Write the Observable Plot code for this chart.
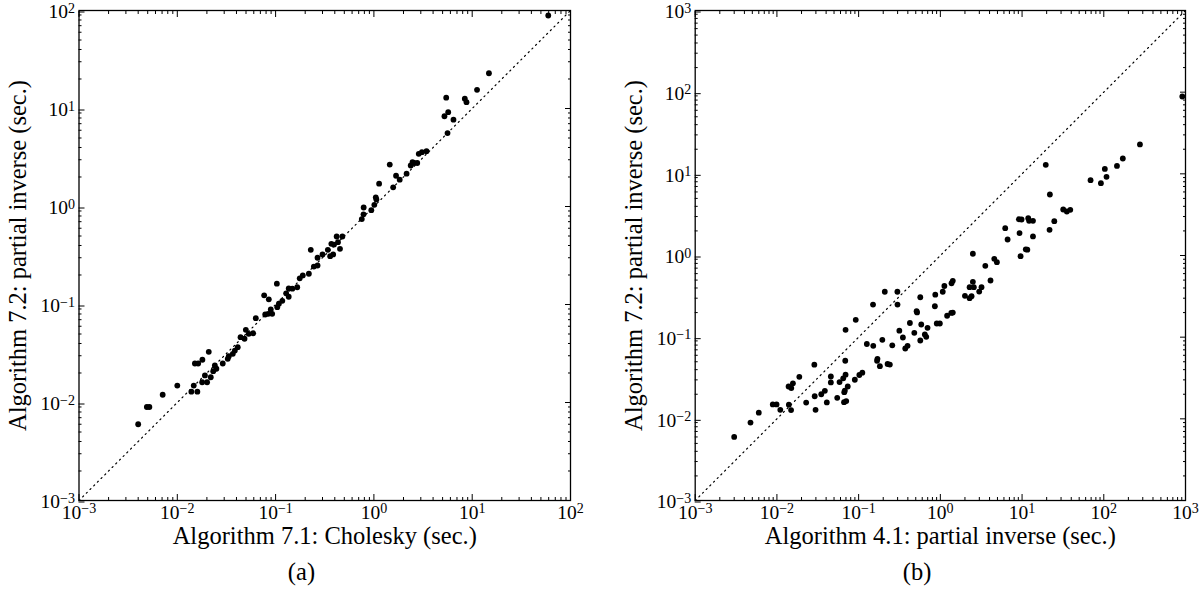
<!DOCTYPE html>
<html><head><meta charset="utf-8">
<script src="https://cdn.jsdelivr.net/npm/d3@7"></script>
<script src="https://cdn.jsdelivr.net/npm/@observablehq/plot@0.6"></script>
<style>
html,body{margin:0;padding:0;background:#fff;}
#wrap{position:relative;width:1204px;height:590px;overflow:hidden;background:#fff;}
#wrap svg{position:absolute;top:0;}
</style></head><body><div id="wrap"></div>
<script>
// ---- Panel (a): Algorithm 7.1 Cholesky (x) vs Algorithm 7.2 partial inverse (y), seconds
const choleskyTime = [0.0040,0.0049,0.0052,0.0071,0.0100,0.0139,0.0160,0.0147,0.0151,0.0163,0.0180,0.0209,0.0179,0.0201,0.0191,0.0219,0.0232,0.0250,0.0241,0.0290,0.0326,0.0334,0.0367,0.0385,0.0412,0.0440,0.0483,0.0498,0.0533,0.0592,0.0629,0.0765,0.0853,0.0784,0.0841,0.0923,0.0893,0.103,0.104,0.108,0.117,0.128,0.136,0.136,0.148,0.166,0.176,0.189,0.218,0.228,0.245,0.267,0.267,0.300,0.340,0.359,0.385,0.369,0.418,0.431,0.452,0.478,0.393,0.753,0.784,0.787,0.941,1.01,1.045,1.06,1.13,1.57,1.45,1.68,1.83,2.15,2.37,2.47,2.56,2.76,2.86,3.08,3.43,5.61,5.22,5.70,6.45,5.44,8.41,8.75,11.2,14.8,59.4];
const partialInvA = [0.0060,0.0090,0.0090,0.012,0.0149,0.0129,0.0129,0.0149,0.025,0.025,0.0273,0.0329,0.0161,0.0161,0.0189,0.0181,0.0209,0.0221,0.0239,0.0250,0.0279,0.0297,0.0314,0.0339,0.0367,0.0464,0.0447,0.0552,0.0502,0.0509,0.0725,0.124,0.113,0.0791,0.0804,0.0804,0.0889,0.163,0.0938,0.102,0.109,0.130,0.120,0.146,0.145,0.150,0.185,0.198,0.206,0.361,0.244,0.250,0.300,0.324,0.361,0.311,0.324,0.416,0.494,0.432,0.370,0.494,0.409,0.745,0.832,0.977,0.917,1.04,1.24,1.18,1.71,1.57,2.68,2.06,1.88,2.16,2.62,2.84,2.78,2.78,3.45,3.58,3.67,5.62,8.34,9.17,7.69,12.9,12.6,11.6,15.5,22.9,88.9];

// ---- Panel (b): Algorithm 4.1 partial inverse (x) vs Algorithm 7.2 partial inverse (y), seconds
const alg41Time = [0.0030,0.00475,0.0060,0.0089,0.0099,0.0110,0.0140,0.0149,0.0139,0.0150,0.0157,0.0188,0.0287,0.0228,0.0297,0.0290,0.0349,0.0386,0.0408,0.0457,0.0457,0.0547,0.0584,0.0648,0.0692,0.0686,0.0692,0.0667,0.0678,0.0663,0.0705,0.0736,0.0898,0.102,0.111,0.0922,0.126,0.151,0.150,0.168,0.170,0.182,0.195,0.209,0.226,0.241,0.258,0.298,0.299,0.315,0.348,0.372,0.397,0.424,0.480,0.568,0.512,0.519,0.584,0.568,0.646,0.672,0.697,0.867,0.857,0.904,0.986,1.07,1.12,1.21,1.36,1.42,1.37,1.42,2.00,2.28,2.41,2.28,2.57,3.19,2.99,2.50,4.11,3.55,2.50,4.57,4.92,6.22,6.65,9.14,9.86,9.31,9.59,11.1,11.6,11.9,12.2,13.6,13.6,19.5,21.9,21.7,24.8,31.9,35.3,38.9,68.9,92.2,103,108,145,171,277,914];
const partialInvB = [0.0060,0.0090,0.0119,0.0150,0.0150,0.0129,0.0149,0.0128,0.0249,0.0238,0.0272,0.0327,0.0460,0.0158,0.0129,0.0189,0.0200,0.0220,0.0159,0.0279,0.0330,0.0181,0.0282,0.0313,0.0347,0.0514,0.123,0.0212,0.0222,0.0160,0.0165,0.0249,0.0301,0.0344,0.0367,0.163,0.0825,0.0784,0.251,0.0514,0.0543,0.0441,0.0929,0.360,0.0469,0.0462,0.0795,0.360,0.251,0.120,0.0991,0.0726,0.0784,0.149,0.113,0.308,0.208,0.201,0.143,0.0910,0.108,0.101,0.130,0.331,0.239,0.147,0.147,0.360,0.423,0.183,0.198,0.200,0.457,0.490,0.321,0.300,0.318,0.409,0.409,0.409,0.362,0.476,0.494,0.748,1.05,0.910,0.828,2.16,1.57,2.78,2.76,1.88,0.980,1.19,1.18,2.86,2.66,2.66,1.71,12.9,5.58,2.06,2.63,3.66,3.46,3.62,8.36,7.68,11.5,9.19,12.5,15.4,22.9,88.5];

// ---- Axes: major (labelled) ticks, decades
const ticksA = [1e-3, 1e-2, 1e-1, 1, 10, 100];
const ticksB = [1e-3, 1e-2, 1e-1, 1, 10, 100, 1000];
const minorMult = [2, 3, 4, 5, 6, 7, 8, 9];

const labelsA = {x: "Algorithm 7.1: Cholesky (sec.)", y: "Algorithm 7.2: partial inverse (sec.)", caption: "(a)"};
const labelsB = {x: "Algorithm 4.1: partial inverse (sec.)", y: "Algorithm 7.2: partial inverse (sec.)", caption: "(b)"};

const FONT = "'Liberation Serif', 'DejaVu Serif', serif";

function panel({xs, ys, ticks, labels, width, marginLeft, marginRight}) {
  const domain = [ticks[0], ticks[ticks.length - 1]];
  const minor = ticks.slice(0, -1).flatMap(t => minorMult.map(m => m * t));
  const pts = xs.map((x, i) => ({x, y: ys[i]}));
  const fmt = d => "10^" + Math.round(Math.log10(d));
  const blank = () => "";
  const common = {label: null, stroke: "black", fill: "black", strokeWidth: 1};
  const txt = {fontSize: 24.5, fill: "black", lineAnchor: "middle", textAnchor: "middle"};
  return Plot.plot({
    width, height: 590,
    marginLeft, marginRight, marginTop: 10, marginBottom: 90,
    x: {type: "log", domain},
    y: {type: "log", domain},
    style: {fontFamily: FONT, fontSize: "19.5px", color: "black", background: "white", overflow: "visible"},
    marks: [
      Plot.line(domain, {x: d => d, y: d => d, stroke: "black", strokeWidth: 1.2, strokeDasharray: "1.2,4"}),
      Plot.dot(pts, {x: "x", y: "y", r: 2.9, fill: "black", stroke: null}),
      Plot.axisX(ticks, {...common, anchor: "bottom", tickSize: -6, tickPadding: 10.5, tickFormat: fmt}),
      Plot.axisX(minor, {...common, anchor: "bottom", tickSize: -3, tickFormat: blank}),
      Plot.axisX(ticks, {...common, anchor: "top", tickSize: -6, tickFormat: blank}),
      Plot.axisX(minor, {...common, anchor: "top", tickSize: -3, tickFormat: blank}),
      Plot.axisY(ticks, {...common, anchor: "left", tickSize: -6, tickPadding: 10, dy: 1.5, tickFormat: fmt}),
      Plot.axisY(minor, {...common, anchor: "left", tickSize: -3, tickFormat: blank}),
      Plot.axisY(ticks, {...common, anchor: "right", tickSize: -6, tickFormat: blank}),
      Plot.axisY(minor, {...common, anchor: "right", tickSize: -3, tickFormat: blank}),
      Plot.frame({stroke: "black", strokeWidth: 1.3}),
      Plot.text([labels.x], {...txt, text: d => d, frameAnchor: "bottom", dy: 36}),
      Plot.text([labels.caption], {...txt, text: d => d, frameAnchor: "bottom", dy: 72, dx: -23.3}),
      Plot.text([labels.y], {...txt, text: d => d, frameAnchor: "left", rotate: -90, dx: -61})
    ]
  });
}

function superscripts(svg) {
  svg.querySelectorAll('g[aria-label$="tick label"] text').forEach(t => {
    const m = /^10\^(-?\d+)$/.exec(t.textContent.trim());
    if (!m) return;
    t.textContent = "";
    t.appendChild(document.createTextNode("10"));
    const s = document.createElementNS("http://www.w3.org/2000/svg", "tspan");
    s.setAttribute("dy", "-0.4em");
    s.setAttribute("font-size", "0.72em");
    s.textContent = m[1].replace("-", "\u2212");
    t.appendChild(s);
  });
}

const wrap = document.getElementById("wrap");
const a = panel({xs: choleskyTime, ys: partialInvA, ticks: ticksA, labels: labelsA, width: 602, marginLeft: 78.5, marginRight: 32});
const b = panel({xs: alg41Time, ys: partialInvB, ticks: ticksB, labels: labelsB, width: 602, marginLeft: 92.7, marginRight: 19});
superscripts(a); superscripts(b);
a.style.left = "0px"; b.style.left = "602px";
wrap.appendChild(a); wrap.appendChild(b);
</script></body></html>
